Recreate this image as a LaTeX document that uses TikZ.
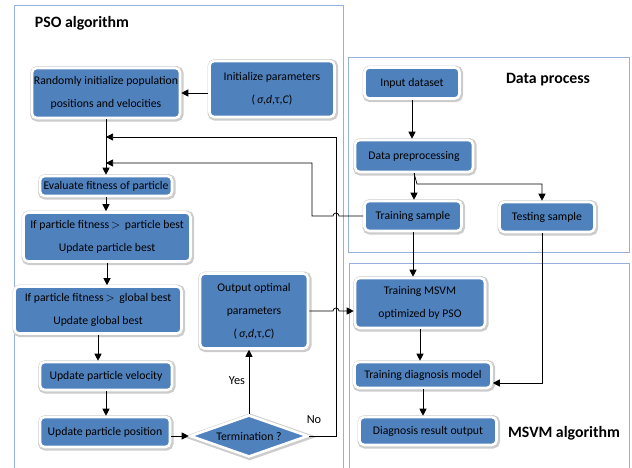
\documentclass[tikz,border=0pt]{standalone}
\usepackage{fontspec}
\setmainfont{Carlito}
\usetikzlibrary{arrows.meta,shapes.geometric}
\definecolor{boxblue}{RGB}{79,129,189}
\definecolor{frameblue}{RGB}{149,176,222}
\tikzset{
	blk/.style={rectangle,rounded corners=4pt,fill=boxblue,draw=white,line width=2.2pt,
		preaction={draw=black!20,line width=4.8pt,transform canvas={shift={(0.7pt,-0.7pt)}}},
		font=\fontsize{10}{19.5}\selectfont,align=center,inner sep=1pt},
	dec/.style={diamond,aspect=2.8,fill=boxblue,draw=white,line width=2.2pt,
		preaction={draw=black!20,line width=4.8pt,transform canvas={shift={(0.7pt,-0.7pt)}}},
		font=\fontsize{10}{12}\selectfont,inner sep=0pt},
	frm/.style={draw=frameblue,line width=0.7pt},
	ttl/.style={font=\fontsize{13.5}{16}\selectfont\bfseries},
	lbl/.style={font=\fontsize{10.5}{12}\selectfont},
	con/.style={draw,line width=0.6pt,-{Triangle[length=6pt,width=6pt]}},
}
\newcommand{\prm}{(\,\textit{σ},\textit{d},τ,\textit{C})}

\begin{document}
\begin{tikzpicture}[x=0.03cm,y=-0.03cm]
		\useasboundingbox (0,0) rectangle (632,467);
		\draw[frm] (14,470) -- (14,5) -- (343,5) -- (343,470);
		\draw[frm] (348,57) rectangle (629,252);
		\draw[frm] (349,470) -- (349,263) -- (629,263) -- (629,470);
		\node[ttl] (psot) at (82,23) {PSO algorithm};
		\node[ttl] (datat) at (548,80) {Data process};
		\node[ttl] (svmt) at (564,433) {MSVM algorithm};

		\node[blk,minimum width=4.44cm,minimum height=1.5cm] (randinit) at (106,93) {Randomly initialize population\\positions and velocities};
		\node[blk,minimum width=3.75cm,minimum height=1.68cm] (initp) at (272,89) {Initialize parameters\\\prm};
		\node[blk,minimum width=3.96cm,minimum height=0.6cm] (evalfit) at (106,186) {Evaluate fitness of particle};
		\node[blk,minimum width=5.01cm,minimum height=1.47cm] (pbest) at (107,237) {If particle fitness\,$>$\, particle best\\Update particle best};
		\node[blk,minimum width=5.01cm,minimum height=1.41cm] (gbest) at (98,310) {If particle fitness\,$>$\, global best\\Update global best};
		\node[blk,minimum width=3.96cm,minimum height=0.84cm] (vel) at (106,376) {Update particle velocity};
		\node[blk,minimum width=3.9cm,minimum height=0.9cm] (pos) at (105,432) {Update particle position};
		\node[dec,minimum width=3.54cm,minimum height=1.26cm] (term) at (249,436) {Termination ?};
		\node[blk,minimum width=3.24cm,minimum height=2.25cm] (out) at (254,311) {Output optimal\\parameters\\\prm};

		\node[blk,minimum width=2.85cm,minimum height=0.93cm] (input) at (412,83) {Input dataset};
		\node[blk,minimum width=3.54cm,minimum height=0.96cm] (prep) at (414,156) {Data preprocessing};
		\node[blk,minimum width=2.91cm,minimum height=0.9cm] (trs) at (413,216) {Training sample};
		\node[blk,minimum width=2.85cm,minimum height=0.9cm] (tes) at (547,217) {Testing sample};

		\node[blk,minimum width=3.9cm,minimum height=1.5cm] (trmsvm) at (420,303) {Training MSVM\\optimized by PSO};
		\node[blk,minimum width=4.11cm,minimum height=0.78cm] (tdm) at (423,375) {Training diagnosis model};
		\node[blk,minimum width=4.11cm,minimum height=0.84cm] (dro) at (428,431) {Diagnosis result output};

		\node[lbl] (yes) at (237,381) {Yes};
		\node[lbl] (no) at (314,420) {No};

		\draw[con] (initp.west |- randinit.east) -- (randinit.east);
		\draw[con] (randinit.south) -- (randinit.south |- evalfit.north);
		\draw[con] (evalfit.south) -- (evalfit.south |- pbest.north);
		\draw[con] (pbest.south) -- (pbest.south |- gbest.north);
		\draw[con] (gbest.south) -- (gbest.south |- vel.north);
		\draw[con] (vel.south) -- (vel.south |- pos.north);
		\draw[con] (pos.east |- term.west) -- (term.west);
		\draw[con] (term.north) -- (term.north |- out.south);
		\draw[con] (term.east) -- (336,436) -- (336,137) -- (randinit.south |- 0,137);
		\draw[con] (trs.west) -- (339,216) arc[start angle=0,end angle=180,radius=0.09cm] -- (312,216) -- (312,163) -- (randinit.south |- 0,163);
		\draw[con] (out.east) -- (333,311) arc[start angle=180,end angle=0,radius=0.09cm] -- (trmsvm.west |- out.east);

		\draw[con] (input.south) -- (input.south |- prep.north);
		\draw[con] (prep.south) -- (prep.south |- trs.north);
		\draw[con] (prep.south) -- (417,184) -- (542,184) -- (542,0 |- tes.north);
		\draw[con] (trs.south) -- (trs.south |- trmsvm.north);
		\draw[con] (trmsvm.south) -- (trmsvm.south |- tdm.north);
		\draw[con] (tes.south -| 542,0) -- (542,383) -- (tdm.east |- 0,383);
		\draw[con] (tdm.south) -- (tdm.south |- dro.north);
		\end{tikzpicture}
\end{document}
